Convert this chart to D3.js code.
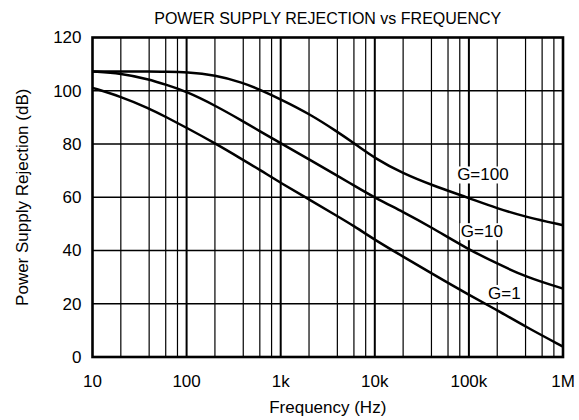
<!DOCTYPE html>
<html>
<head>
<meta charset="utf-8">
<script src="https://cdn.jsdelivr.net/npm/d3@7"></script>
<style>
  body { margin: 0; background: #fff; }
  text { font-family: 'Liberation Sans', Arial, sans-serif; fill: #000; }
</style>
</head>
<body>
<div id="chart"></div>
<script>
// frequencies (Hz) the curves were read at
const freqs = [10, 20, 40, 60, 100, 200, 400, 600, 1e3, 2e3, 4e3, 6e3, 1e4, 2e4, 4e4, 1e5, 2e5, 4e5, 1e6]

// PSRR in dB for each gain
const g100 = [107.2, 107.2, 107.2, 107.1, 107, 105.9, 103, 100.4, 96.8, 91.4, 84.6, 80.3, 74.6, 68.9, 64.6, 59.7, 55.8, 52.6, 49.5]
const g10 = [107.2, 106.6, 104.3, 102.3, 99.7, 94.5, 88.5, 84.8, 80.3, 74.2, 68.1, 64.4, 59.8, 54.5, 48.7, 40.3, 35.1, 30.1, 25.7]
const g1 = [101.1, 97.8, 93.4, 90.2, 86.1, 80.3, 74, 70.3, 65.4, 59.2, 52.9, 49.2, 44, 37.7, 31.4, 23.3, 17.6, 11.4, 3.9]

const xTickValues = [10, 100, 1e3, 1e4, 1e5, 1e6]
const xTickLabels = ['10', '100', '1k', '10k', '100k', '1M']
const yTickValues = [0, 20, 40, 60, 80, 100, 120]

// curve labels: text, frequency and dB of the text baseline start
const labelText = ['G=100', 'G=10', 'G=1']
const labelFreq = [75000, 82000, 160000]
const labelDb = [66.3, 45, 21.8]

let margin = { top: 37.5, left: 92.5, right: 16, bottom: 63 }
let width = 579 - margin.left - margin.right
let height = 420 - margin.top - margin.bottom

const svg = d3
  .select('#chart')
  .append('svg')
  .attr('width', 579)
  .attr('height', 420)

const g = svg
  .append('g')
  .attr('transform', 'translate(' + margin.left + ',' + margin.top + ')')

var xScale = d3
  .scaleLog()
  .domain([10, 1e6])
  .range([0, width])

var yScale = d3
  .scaleLinear()
  .domain([0, 120])
  .range([height, 0])

// minor grid: 2,4,6,8 of every decade
let minor = []
xTickValues.slice(0, -1).forEach(d => {
  ;[2, 4, 6, 8].forEach(m => minor.push(d * m))
})

g.selectAll('.minor')
  .data(minor)
  .enter()
  .append('line')
  .attr('class', 'minor')
  .attr('x1', d => xScale(d))
  .attr('x2', d => xScale(d))
  .attr('y1', 0)
  .attr('y2', height)
  .attr('stroke', '#000')
  .attr('stroke-width', 1.2)

g.selectAll('.hgrid')
  .data(yTickValues.slice(1, -1))
  .enter()
  .append('line')
  .attr('class', 'hgrid')
  .attr('x1', 0)
  .attr('x2', width)
  .attr('y1', d => yScale(d))
  .attr('y2', d => yScale(d))
  .attr('stroke', '#000')
  .attr('stroke-width', 1.3)

g.selectAll('.decade')
  .data(xTickValues.slice(1, -1))
  .enter()
  .append('line')
  .attr('class', 'decade')
  .attr('x1', d => xScale(d))
  .attr('x2', d => xScale(d))
  .attr('y1', 0)
  .attr('y2', height)
  .attr('stroke', '#000')
  .attr('stroke-width', 2)

// label boxes cover the grid
const labels = labelText.map((t, i) => ({ text: t, f: labelFreq[i], db: labelDb[i] }))

const labelG = g.selectAll('.curve-label')
  .data(labels)
  .enter()
  .append('g')
  .attr('class', 'curve-label')

labelG
  .append('text')
  .attr('x', d => xScale(d.f))
  .attr('y', d => yScale(d.db))
  .attr('font-size', 17)
  .text(d => d.text)

labelG.each(function() {
  let bb = d3.select(this).select('text').node().getBBox()
  d3.select(this)
    .insert('rect', 'text')
    .attr('x', bb.x - 1)
    .attr('y', bb.y + 1)
    .attr('width', bb.width + 2)
    .attr('height', bb.height - 2)
    .attr('fill', '#fff')
})

var line = d3
  .line()
  .x((d, i) => xScale(freqs[i]))
  .y(d => yScale(d))
  .curve(d3.curveBasis)

g.selectAll('.curve')
  .data([g100, g10, g1])
  .enter()
  .append('path')
  .attr('class', 'curve')
  .attr('d', line)
  .attr('fill', 'none')
  .attr('stroke', '#000')
  .attr('stroke-width', 2.5)

// frame
g.append('rect')
  .attr('width', width)
  .attr('height', height)
  .attr('fill', 'none')
  .attr('stroke', '#000')
  .attr('stroke-width', 2.6)

// tick labels
g.selectAll('.xlabel')
  .data(xTickValues)
  .enter()
  .append('text')
  .attr('class', 'xlabel')
  .attr('x', d => xScale(d))
  .attr('y', height + 30)
  .attr('text-anchor', 'middle')
  .attr('font-size', 17)
  .text((d, i) => xTickLabels[i])

g.selectAll('.ylabel')
  .data(yTickValues)
  .enter()
  .append('text')
  .attr('class', 'ylabel')
  .attr('x', -11)
  .attr('y', d => yScale(d))
  .attr('dy', '0.35em')
  .attr('text-anchor', 'end')
  .attr('font-size', 17)
  .text(d => d)

svg.append('text')
  .attr('x', margin.left + width / 2)
  .attr('y', 24)
  .attr('text-anchor', 'middle')
  .attr('font-size', 16)
  .text('POWER SUPPLY REJECTION vs FREQUENCY')

svg.append('text')
  .attr('x', margin.left + width / 2)
  .attr('y', 413)
  .attr('text-anchor', 'middle')
  .attr('font-size', 17)
  .text('Frequency (Hz)')

svg.append('text')
  .attr('transform', 'translate(28,' + (margin.top + height / 2) + ') rotate(-90)')
  .attr('text-anchor', 'middle')
  .attr('font-size', 17)
  .text('Power Supply Rejection (dB)')
</script>
</body>
</html>
